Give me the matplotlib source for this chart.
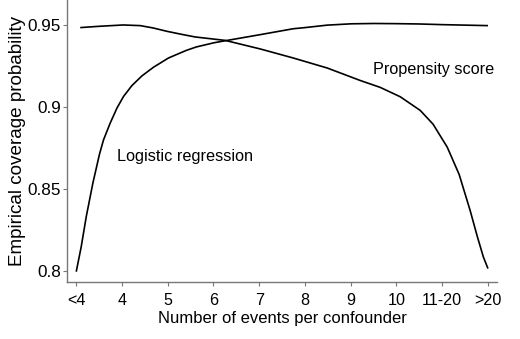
import matplotlib
matplotlib.use("Agg")
import matplotlib.pyplot as plt

plt.rcParams['font.family'] = ['Liberation Sans', 'DejaVu Sans']

categories = ['<4', '4', '5', '6', '7', '8', '9', '10', '11-20', '>20']

# Curves (x in category-index units)
lr_x = [0.0, 0.109, 0.219, 0.365, 0.509, 0.597, 0.743, 0.890, 1.034, 1.217,
        1.436, 1.690, 2.017, 2.404, 2.623, 3.016, 3.257, 4.02, 4.743, 5.0,
        5.486, 6.01, 6.5, 7.0, 7.5, 8.0, 8.5, 9.0]
lr_y = [0.7996, 0.8148, 0.8331, 0.8537, 0.8712, 0.8799, 0.8901, 0.8992, 0.9063, 0.9129,
        0.9188, 0.9241, 0.9297, 0.9343, 0.9364, 0.9390, 0.9402, 0.9439, 0.9475, 0.9482,
        0.9497, 0.9505, 0.9507, 0.9506, 0.9504, 0.9500, 0.9497, 0.9494]

ps_x = [0.087, 0.509, 1.027, 1.40, 1.677, 1.989, 2.339, 2.60, 3.257, 4.022,
        4.743, 5.486, 6.208, 6.645, 7.082, 7.519, 7.80, 8.11, 8.37, 8.61,
        8.77, 8.90, 9.0]
ps_y = [0.9482, 0.9490, 0.9498, 0.9494, 0.9480, 0.9459, 0.9439, 0.9425, 0.9404, 0.9352,
        0.9297, 0.9236, 0.9160, 0.9118, 0.9061, 0.8978, 0.8894, 0.8754, 0.8588, 0.8369,
        0.8207, 0.8085, 0.8015]

y_ticks = [0.8, 0.85, 0.9, 0.95]
y_tick_labels = ['0.8', '0.85', '0.9', '0.95']

fig = plt.figure(figsize=(5.2, 3.39), dpi=100)
ax = fig.add_axes([0.129, 0.168, 0.827, 0.832])

ax.plot(lr_x, lr_y, color='black', lw=1.2, solid_capstyle='butt', solid_joinstyle='round')
ax.plot(ps_x, ps_y, color='black', lw=1.2, solid_capstyle='butt', solid_joinstyle='round')

ax.set_xlim(-0.2, 9.2)
ax.set_ylim(0.7933, 0.965)
ax.set_xticks(range(len(categories)))
ax.set_xticklabels(categories)
ax.set_yticks(y_ticks)
ax.set_yticklabels(y_tick_labels)

for s in ['top', 'right']:
    ax.spines[s].set_visible(False)
for s in ['left', 'bottom']:
    ax.spines[s].set_color('#777777')
    ax.spines[s].set_linewidth(1.0)

ax.tick_params(axis='both', direction='out', length=3, width=0.8, color='#777777',
               labelcolor='black')
ax.tick_params(axis='x', labelsize=11.6, pad=5)
ax.tick_params(axis='y', labelsize=12.3, pad=1.5)

ax.set_xlabel('Number of events per confounder', fontsize=12, labelpad=2)
ax.set_ylabel('Empirical coverage probability', fontsize=13.6, labelpad=1)

ax.text(0.896, 0.870, 'Logistic regression', fontsize=11.7, ha='left', va='center')
ax.text(6.49, 0.9225, 'Propensity score', fontsize=11.7, ha='left', va='center')

fig.savefig('out.png', dpi=100)
